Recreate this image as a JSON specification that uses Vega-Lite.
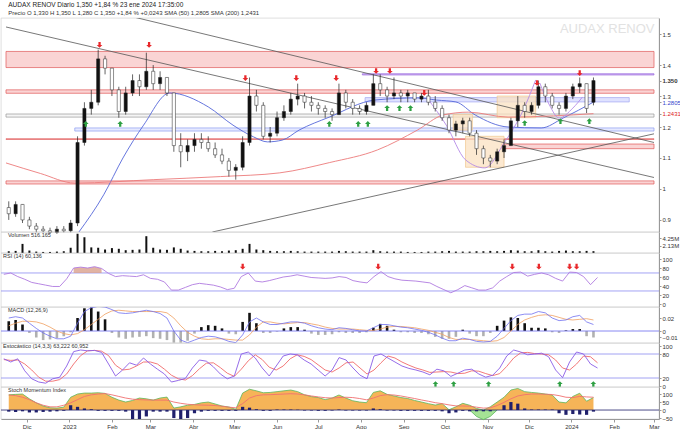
{
"$schema":"https://vega.github.io/schema/vega-lite/v6.json",
"padding":{"left":0,"right":0,"top":2,"bottom":0},
"background":"white",
"title":{"text":"AUDAX RENOV Diario 1,350 +1,84 % 23 ene 2024 17:35:00","subtitle":"Precio O 1,330  H 1,350  L 1,280  C 1,350  +1,84 %  +0,0243      SMA (50) 1,2805      SMA (200) 1,2431","anchor":"start","fontSize":6.5,"fontWeight":"normal","subtitleFontSize":6,"color":"#222","subtitleColor":"#333","offset":2,"subtitlePadding":1,"font":"Liberation Sans","subtitleFont":"Liberation Sans","dx":8},
"datasets":{
"p":[
{"d":"2022-11-18","o":0.94,"h":0.96,"l":0.90,"c":0.92,"v":500000,"r":67,"mh":0.015,"m":0.020,"s":0.008,"k":68,"dd":66,"sm":95,"sg":94,"nb":-10},
{"d":"2022-11-23","o":0.92,"h":0.96,"l":0.91,"c":0.95,"v":600000,"r":70,"mh":0.017,"m":0.022,"s":0.012,"k":60,"dd":64,"sm":98,"sg":90,"nb":-12},
{"d":"2022-11-28","o":0.95,"h":0.95,"l":0.89,"c":0.90,"v":2600000,"r":62,"mh":0.010,"m":0.020,"s":0.015,"k":68,"dd":65,"sm":100,"sg":80,"nb":-8},
{"d":"2022-12-03","o":0.90,"h":0.91,"l":0.87,"c":0.88,"v":700000,"r":56,"mh":-0.003,"m":0.012,"s":0.015,"k":38,"dd":55,"sm":70,"sg":65,"nb":-15},
{"d":"2022-12-08","o":0.88,"h":0.89,"l":0.86,"c":0.87,"v":400000,"r":49,"mh":-0.010,"m":0.004,"s":0.014,"k":18,"dd":40,"sm":45,"sg":45,"nb":-15},
{"d":"2022-12-13","o":0.87,"h":0.88,"l":0.86,"c":0.865,"v":300000,"r":46,"mh":-0.014,"m":-0.003,"s":0.011,"k":10,"dd":22,"sm":25,"sg":30,"nb":-12},
{"d":"2022-12-18","o":0.865,"h":0.875,"l":0.855,"c":0.86,"v":300000,"r":43,"mh":-0.013,"m":-0.008,"s":0.006,"k":7,"dd":12,"sm":14,"sg":20,"nb":-10},
{"d":"2022-12-23","o":0.86,"h":0.88,"l":0.855,"c":0.87,"v":400000,"r":40,"mh":-0.011,"m":-0.012,"s":0.0,"k":18,"dd":12,"sm":12,"sg":20,"nb":-8},
{"d":"2022-12-28","o":0.87,"h":0.88,"l":0.86,"c":0.865,"v":500000,"r":40,"mh":-0.008,"m":-0.012,"s":-0.004,"k":22,"dd":16,"sm":18,"sg":30,"nb":-5},
{"d":"2023-01-02","o":0.865,"h":0.90,"l":0.86,"c":0.89,"v":1500000,"r":57,"mh":-0.002,"m":-0.008,"s":-0.006,"k":50,"dd":30,"sm":80,"sg":45,"nb":30},
{"d":"2023-01-07","o":0.89,"h":1.17,"l":0.88,"c":1.15,"v":5500000,"r":81,"ob":81,"mh":0.020,"m":0.012,"s":-0.004,"k":86,"dd":55,"sm":100,"sg":65,"nb":20},
{"d":"2023-01-12","o":1.15,"h":1.28,"l":1.14,"c":1.26,"v":4500000,"r":83,"ob":83,"mh":0.035,"m":0.030,"s":0.002,"k":90,"dd":76,"sm":106,"sg":85,"nb":10},
{"d":"2023-01-17","o":1.26,"h":1.32,"l":1.24,"c":1.28,"v":1600000,"r":81,"ob":81,"mh":0.036,"m":0.036,"s":0.010,"k":88,"dd":88,"sm":106,"sg":95,"nb":5},
{"d":"2023-01-22","o":1.28,"h":1.45,"l":1.27,"c":1.42,"v":1500000,"r":84,"ob":84,"mh":0.030,"m":0.038,"s":0.018,"k":89,"dd":89,"sm":108,"sg":100,"nb":-5},
{"d":"2023-01-27","o":1.42,"h":1.43,"l":1.37,"c":1.39,"v":1000000,"r":80,"ob":80,"mh":0.018,"m":0.037,"s":0.026,"k":84,"dd":87,"sm":104,"sg":103,"nb":-5},
{"d":"2023-02-01","o":1.39,"h":1.39,"l":1.30,"c":1.32,"v":1400000,"r":69,"mh":-0.003,"m":0.033,"s":0.031,"k":55,"dd":76,"sm":80,"sg":95,"nb":-5},
{"d":"2023-02-06","o":1.32,"h":1.33,"l":1.23,"c":1.25,"v":1200000,"r":62,"mh":-0.010,"m":0.028,"s":0.032,"k":25,"dd":52,"sm":62,"sg":85,"nb":-5},
{"d":"2023-02-11","o":1.25,"h":1.33,"l":1.24,"c":1.31,"v":800000,"r":64,"mh":-0.012,"m":0.027,"s":0.031,"k":40,"dd":40,"sm":50,"sg":75,"nb":-10},
{"d":"2023-02-16","o":1.31,"h":1.37,"l":1.30,"c":1.35,"v":900000,"r":63,"mh":-0.010,"m":0.028,"s":0.030,"k":58,"dd":42,"sm":60,"sg":68,"nb":-60},
{"d":"2023-02-21","o":1.35,"h":1.37,"l":1.30,"c":1.33,"v":1000000,"r":62,"mh":-0.009,"m":0.030,"s":0.030,"k":52,"dd":50,"sm":75,"sg":65,"nb":-75},
{"d":"2023-02-26","o":1.33,"h":1.44,"l":1.32,"c":1.38,"v":4800000,"r":66,"mh":-0.008,"m":0.032,"s":0.030,"k":70,"dd":60,"sm":70,"sg":63,"nb":-40},
{"d":"2023-03-03","o":1.38,"h":1.40,"l":1.32,"c":1.34,"v":1500000,"r":58,"mh":-0.011,"m":0.030,"s":0.030,"k":55,"dd":60,"sm":62,"sg":62,"nb":-10},
{"d":"2023-03-08","o":1.34,"h":1.38,"l":1.32,"c":1.36,"v":1000000,"r":56,"mh":-0.012,"m":0.027,"s":0.030,"k":42,"dd":55,"sm":75,"sg":62,"nb":-10},
{"d":"2023-03-13","o":1.36,"h":1.36,"l":1.30,"c":1.31,"v":900000,"r":50,"mh":-0.014,"m":0.020,"s":0.028,"k":30,"dd":42,"sm":81,"sg":62,"nb":-10},
{"d":"2023-03-18","o":1.31,"h":1.31,"l":1.12,"c":1.14,"v":1600000,"r":32,"mh":-0.018,"m":0.0,"s":0.020,"k":10,"dd":27,"sm":12,"sg":50,"nb":-50},
{"d":"2023-03-23","o":1.14,"h":1.18,"l":1.07,"c":1.12,"v":1200000,"r":32,"mh":-0.018,"m":-0.014,"s":0.008,"k":14,"dd":18,"sm":20,"sg":42,"nb":-62},
{"d":"2023-03-28","o":1.12,"h":1.16,"l":1.09,"c":1.14,"v":700000,"r":38,"mh":-0.015,"m":-0.018,"s":-0.002,"k":19,"dd":15,"sm":30,"sg":36,"nb":-50},
{"d":"2023-04-02","o":1.14,"h":1.18,"l":1.12,"c":1.16,"v":600000,"r":44,"mh":-0.004,"m":-0.014,"s":-0.008,"k":45,"dd":26,"sm":35,"sg":33,"nb":-20},
{"d":"2023-04-07","o":1.16,"h":1.18,"l":1.13,"c":1.15,"v":500000,"r":47,"mh":0.006,"m":-0.010,"s":-0.012,"k":65,"dd":43,"sm":45,"sg":31,"nb":-10},
{"d":"2023-04-12","o":1.15,"h":1.17,"l":1.12,"c":1.13,"v":500000,"r":45,"mh":0.009,"m":-0.008,"s":-0.013,"k":62,"dd":57,"sm":50,"sg":30,"nb":-5},
{"d":"2023-04-17","o":1.13,"h":1.15,"l":1.10,"c":1.11,"v":600000,"r":43,"mh":0.008,"m":-0.009,"s":-0.012,"k":48,"dd":58,"sm":38,"sg":28,"nb":-5},
{"d":"2023-04-22","o":1.11,"h":1.13,"l":1.08,"c":1.09,"v":500000,"r":39,"mh":0.004,"m":-0.012,"s":-0.012,"k":30,"dd":46,"sm":25,"sg":24,"nb":-5},
{"d":"2023-04-27","o":1.09,"h":1.10,"l":1.04,"c":1.06,"v":700000,"r":33,"mh":-0.004,"m":-0.016,"s":-0.013,"k":18,"dd":32,"sm":19,"sg":18,"nb":-5},
{"d":"2023-05-02","o":1.06,"h":1.08,"l":1.03,"c":1.07,"v":800000,"r":36,"mh":-0.005,"m":-0.018,"s":-0.014,"k":25,"dd":24,"sm":4,"sg":14,"nb":-5},
{"d":"2023-05-07","o":1.07,"h":1.17,"l":1.06,"c":1.15,"v":1200000,"r":62,"mh":0.014,"m":-0.006,"s":-0.014,"k":80,"dd":42,"sm":106,"sg":40,"nb":20},
{"d":"2023-05-12","o":1.15,"h":1.36,"l":1.14,"c":1.30,"v":2600000,"r":70,"mh":0.028,"m":0.014,"s":-0.006,"k":85,"dd":63,"sm":130,"sg":75,"nb":15},
{"d":"2023-05-17","o":1.30,"h":1.32,"l":1.25,"c":1.27,"v":1000000,"r":52,"mh":0.012,"m":0.020,"s":0.006,"k":70,"dd":78,"sm":120,"sg":90,"nb":5},
{"d":"2023-05-22","o":1.27,"h":1.28,"l":1.16,"c":1.17,"v":800000,"r":50,"mh":-0.003,"m":0.014,"s":0.014,"k":45,"dd":66,"sm":108,"sg":95,"nb":-5},
{"d":"2023-05-27","o":1.17,"h":1.20,"l":1.15,"c":1.18,"v":600000,"r":53,"mh":-0.003,"m":0.010,"s":0.014,"k":25,"dd":47,"sm":110,"sg":96,"nb":-5},
{"d":"2023-06-01","o":1.18,"h":1.25,"l":1.17,"c":1.23,"v":500000,"r":57,"mh":-0.001,"m":0.010,"s":0.012,"k":50,"dd":40,"sm":115,"sg":98,"nb":3},
{"d":"2023-06-06","o":1.23,"h":1.27,"l":1.22,"c":1.25,"v":500000,"r":61,"mh":0.004,"m":0.012,"s":0.011,"k":75,"dd":50,"sm":120,"sg":100,"nb":3},
{"d":"2023-06-11","o":1.25,"h":1.31,"l":1.24,"c":1.29,"v":600000,"r":63,"mh":0.006,"m":0.014,"s":0.012,"k":80,"dd":68,"sm":125,"sg":102,"nb":3},
{"d":"2023-06-16","o":1.29,"h":1.34,"l":1.27,"c":1.30,"v":500000,"r":66,"mh":0.006,"m":0.014,"s":0.013,"k":78,"dd":78,"sm":115,"sg":100,"nb":2},
{"d":"2023-06-21","o":1.30,"h":1.31,"l":1.26,"c":1.28,"v":400000,"r":63,"mh":0.002,"m":0.012,"s":0.013,"k":65,"dd":74,"sm":95,"sg":95,"nb":-3},
{"d":"2023-06-26","o":1.28,"h":1.30,"l":1.25,"c":1.27,"v":400000,"r":60,"mh":-0.004,"m":0.008,"s":0.011,"k":55,"dd":66,"sm":84,"sg":88,"nb":-3},
{"d":"2023-07-01","o":1.27,"h":1.28,"l":1.24,"c":1.26,"v":400000,"r":59,"mh":-0.006,"m":0.005,"s":0.009,"k":40,"dd":53,"sm":78,"sg":82,"nb":-5},
{"d":"2023-07-06","o":1.26,"h":1.27,"l":1.23,"c":1.25,"v":400000,"r":58,"mh":-0.006,"m":0.003,"s":0.006,"k":25,"dd":40,"sm":65,"sg":77,"nb":-5},
{"d":"2023-07-11","o":1.25,"h":1.26,"l":1.22,"c":1.24,"v":400000,"r":59,"mh":-0.005,"m":0.002,"s":0.004,"k":40,"dd":35,"sm":75,"sg":75,"nb":-3},
{"d":"2023-07-16","o":1.24,"h":1.34,"l":1.24,"c":1.31,"v":600000,"r":62,"mh":-0.002,"m":0.005,"s":0.003,"k":71,"dd":45,"sm":94,"sg":78,"nb":3},
{"d":"2023-07-21","o":1.31,"h":1.32,"l":1.26,"c":1.28,"v":500000,"r":60,"mh":-0.003,"m":0.004,"s":0.003,"k":65,"dd":58,"sm":75,"sg":80,"nb":-3},
{"d":"2023-07-26","o":1.28,"h":1.29,"l":1.24,"c":1.26,"v":400000,"r":53,"mh":-0.003,"m":0.002,"s":0.003,"k":45,"dd":60,"sm":58,"sg":78,"nb":-3},
{"d":"2023-07-31","o":1.26,"h":1.27,"l":1.24,"c":1.25,"v":400000,"r":50,"mh":-0.003,"m":0.0,"s":0.002,"k":27,"dd":45,"sm":50,"sg":72,"nb":-3},
{"d":"2023-08-05","o":1.25,"h":1.28,"l":1.24,"c":1.27,"v":400000,"r":48,"mh":-0.002,"m":0.0,"s":0.001,"k":18,"dd":30,"sm":46,"sg":64,"nb":-3},
{"d":"2023-08-10","o":1.27,"h":1.37,"l":1.27,"c":1.34,"v":800000,"r":62,"mh":0.005,"m":0.005,"s":0.001,"k":75,"dd":40,"sm":110,"sg":75,"nb":10},
{"d":"2023-08-15","o":1.34,"h":1.37,"l":1.30,"c":1.32,"v":500000,"r":73,"mh":0.011,"m":0.010,"s":0.003,"k":80,"dd":58,"sm":120,"sg":90,"nb":5},
{"d":"2023-08-20","o":1.32,"h":1.33,"l":1.28,"c":1.30,"v":400000,"r":62,"mh":0.008,"m":0.010,"s":0.006,"k":70,"dd":75,"sm":98,"sg":96,"nb":-3},
{"d":"2023-08-25","o":1.30,"h":1.36,"l":1.29,"c":1.31,"v":400000,"r":57,"mh":0.002,"m":0.008,"s":0.007,"k":60,"dd":70,"sm":88,"sg":94,"nb":-3},
{"d":"2023-08-30","o":1.31,"h":1.32,"l":1.28,"c":1.30,"v":400000,"r":54,"mh":-0.002,"m":0.006,"s":0.007,"k":50,"dd":60,"sm":78,"sg":88,"nb":-5},
{"d":"2023-09-04","o":1.30,"h":1.32,"l":1.28,"c":1.31,"v":300000,"r":53,"mh":-0.002,"m":0.005,"s":0.006,"k":44,"dd":52,"sm":72,"sg":80,"nb":-5},
{"d":"2023-09-09","o":1.31,"h":1.31,"l":1.28,"c":1.29,"v":300000,"r":52,"mh":-0.003,"m":0.003,"s":0.005,"k":40,"dd":45,"sm":60,"sg":72,"nb":-5},
{"d":"2023-09-14","o":1.29,"h":1.31,"l":1.28,"c":1.30,"v":300000,"r":50,"mh":-0.003,"m":0.001,"s":0.003,"k":35,"dd":40,"sm":50,"sg":63,"nb":-5},
{"d":"2023-09-19","o":1.30,"h":1.32,"l":1.27,"c":1.28,"v":400000,"r":48,"mh":-0.005,"m":-0.002,"s":0.001,"k":28,"dd":34,"sm":40,"sg":55,"nb":-5},
{"d":"2023-09-24","o":1.28,"h":1.30,"l":1.25,"c":1.26,"v":400000,"r":40,"mh":-0.009,"m":-0.006,"s":-0.002,"k":42,"dd":35,"sm":31,"sg":46,"nb":-5},
{"d":"2023-09-29","o":1.26,"h":1.27,"l":1.22,"c":1.23,"v":500000,"r":33,"mh":-0.012,"m":-0.011,"s":-0.005,"k":38,"dd":36,"sm":40,"sg":40,"nb":-8},
{"d":"2023-10-04","o":1.23,"h":1.24,"l":1.18,"c":1.19,"v":600000,"r":26,"mh":-0.012,"m":-0.015,"s":-0.010,"k":24,"dd":35,"sm":2,"sg":32,"nb":-20},
{"d":"2023-10-09","o":1.19,"h":1.22,"l":1.17,"c":1.21,"v":400000,"r":33,"mh":-0.009,"m":-0.015,"s":-0.013,"k":32,"dd":31,"sm":20,"sg":26,"nb":-15},
{"d":"2023-10-14","o":1.21,"h":1.23,"l":1.18,"c":1.22,"v":400000,"r":42,"mh":0.002,"m":-0.011,"s":-0.013,"k":40,"dd":32,"sm":42,"sg":25,"nb":-5},
{"d":"2023-10-19","o":1.22,"h":1.23,"l":1.17,"c":1.18,"v":400000,"r":37,"ng":0,"mh":-0.004,"m":-0.013,"s":-0.013,"k":42,"dd":38,"sm":30,"sg":24,"nb":-8},
{"d":"2023-10-24","o":1.18,"h":1.19,"l":1.11,"c":1.13,"v":500000,"r":32,"ng":-40,"mh":-0.008,"m":-0.016,"s":-0.014,"k":30,"dd":37,"sm":10,"sg":18,"nb":-8},
{"d":"2023-10-29","o":1.13,"h":1.14,"l":1.08,"c":1.10,"v":500000,"r":32,"ng":-60,"mh":-0.008,"m":-0.017,"s":-0.015,"k":22,"dd":31,"sm":0,"sg":12,"nb":-8},
{"d":"2023-11-03","o":1.10,"h":1.11,"l":1.07,"c":1.09,"v":600000,"r":37,"ng":-40,"mh":-0.003,"m":-0.016,"s":-0.016,"k":27,"dd":26,"sm":20,"sg":14,"nb":-8},
{"d":"2023-11-08","o":1.09,"h":1.13,"l":1.08,"c":1.12,"v":500000,"r":52,"ng":0,"mh":0.008,"m":-0.008,"s":-0.015,"k":45,"dd":31,"sm":50,"sg":28,"nb":0},
{"d":"2023-11-13","o":1.12,"h":1.16,"l":1.10,"c":1.14,"v":600000,"r":62,"mh":0.016,"m":0.004,"s":-0.010,"k":75,"dd":49,"sm":80,"sg":48,"nb":30},
{"d":"2023-11-18","o":1.14,"h":1.23,"l":1.14,"c":1.22,"v":800000,"r":71,"mh":0.021,"m":0.016,"s":0.0,"k":90,"dd":70,"sm":125,"sg":70,"nb":50},
{"d":"2023-11-23","o":1.22,"h":1.30,"l":1.20,"c":1.27,"v":700000,"r":72,"mh":0.020,"m":0.024,"s":0.010,"k":85,"dd":83,"sm":135,"sg":88,"nb":40},
{"d":"2023-11-28","o":1.27,"h":1.28,"l":1.23,"c":1.25,"v":500000,"r":63,"mh":0.012,"m":0.026,"s":0.017,"k":78,"dd":84,"sm":115,"sg":96,"nb":10},
{"d":"2023-12-03","o":1.25,"h":1.28,"l":1.24,"c":1.27,"v":500000,"r":67,"mh":0.005,"m":0.026,"s":0.021,"k":80,"dd":81,"sm":110,"sg":100,"nb":3},
{"d":"2023-12-08","o":1.27,"h":1.35,"l":1.26,"c":1.33,"v":800000,"r":70,"mh":0.005,"m":0.030,"s":0.024,"k":82,"dd":80,"sm":106,"sg":100,"nb":3},
{"d":"2023-12-13","o":1.33,"h":1.34,"l":1.28,"c":1.30,"v":500000,"r":66,"mh":0.004,"m":0.028,"s":0.025,"k":73,"dd":78,"sm":100,"sg":99,"nb":3},
{"d":"2023-12-18","o":1.30,"h":1.31,"l":1.26,"c":1.27,"v":400000,"r":58,"mh":-0.002,"m":0.020,"s":0.024,"k":40,"dd":65,"sm":94,"sg":97,"nb":3},
{"d":"2023-12-23","o":1.27,"h":1.28,"l":1.24,"c":1.26,"v":600000,"r":52,"mh":-0.003,"m":0.016,"s":0.021,"k":21,"dd":45,"sm":50,"sg":90,"nb":-20},
{"d":"2023-12-28","o":1.26,"h":1.31,"l":1.25,"c":1.30,"v":700000,"r":72,"mh":0.001,"m":0.017,"s":0.018,"k":60,"dd":40,"sm":45,"sg":80,"nb":-30},
{"d":"2024-01-02","o":1.30,"h":1.34,"l":1.29,"c":1.33,"v":500000,"r":71,"mh":0.003,"m":0.022,"s":0.017,"k":85,"dd":55,"sm":85,"sg":78,"nb":-25},
{"d":"2024-01-07","o":1.33,"h":1.36,"l":1.31,"c":1.34,"v":500000,"r":62,"mh":0.003,"m":0.024,"s":0.018,"k":80,"dd":75,"sm":105,"sg":85,"nb":-28},
{"d":"2024-01-12","o":1.34,"h":1.34,"l":1.245,"c":1.26,"v":600000,"r":44,"mh":-0.008,"m":0.014,"s":0.019,"k":55,"dd":73,"sm":55,"sg":82,"nb":-30},
{"d":"2024-01-17","o":1.28,"h":1.36,"l":1.27,"c":1.35,"v":516165,"r":60,"mh":-0.010,"m":0.010,"s":0.017,"k":45,"dd":58,"sm":78,"sg":80,"nb":-10}
],
"z":[
{"s":"2022-11-16","e":"2024-03-01","lo":1.392,"hi":1.444,"t":"r"},
{"s":"2022-11-16","e":"2024-03-01","lo":1.309,"hi":1.320,"t":"r"},
{"s":"2022-11-16","e":"2024-03-01","lo":1.232,"hi":1.242,"t":"g"},
{"s":"2023-01-05","e":"2024-03-01","lo":1.187,"hi":1.197,"t":"b"},
{"s":"2022-11-16","e":"2024-03-01","lo":1.160,"hi":1.162,"t":"r"},
{"s":"2023-11-11","e":"2024-03-01","lo":1.130,"hi":1.145,"t":"r"},
{"s":"2022-11-16","e":"2024-03-01","lo":1.016,"hi":1.026,"t":"r"},
{"s":"2023-08-02","e":"2024-03-01","lo":1.368,"hi":1.372,"t":"p"},
{"s":"2023-08-04","e":"2024-02-12","lo":1.281,"hi":1.295,"t":"l"},
{"s":"2023-10-07","e":"2023-10-21","lo":1.19,"hi":1.24,"t":"o"},
{"s":"2023-10-16","e":"2023-11-13","lo":1.07,"hi":1.17,"t":"o"},
{"s":"2023-11-08","e":"2023-12-06","lo":1.23,"hi":1.30,"t":"o"}
],
"tl":[
{"id":"A","d":"2022-11-16","p":1.523},{"id":"A","d":"2024-03-01","p":1.037},
{"id":"B","d":"2023-02-02","p":1.571},{"id":"B","d":"2024-03-01","p":1.150},
{"id":"C","d":"2023-04-15","p":0.861},{"id":"C","d":"2024-03-01","p":1.178}
],
"ma":[
{"id":"50","d":"2023-01-08","p":0.861},{"id":"50","d":"2023-01-26","p":0.981},{"id":"50","d":"2023-02-09","p":1.10},{"id":"50","d":"2023-02-24","p":1.206},{"id":"50","d":"2023-03-15","p":1.31},{"id":"50","d":"2023-04-12","p":1.265},{"id":"50","d":"2023-04-30","p":1.206},{"id":"50","d":"2023-05-15","p":1.168},{"id":"50","d":"2023-05-25","p":1.152},{"id":"50","d":"2023-06-05","p":1.158},{"id":"50","d":"2023-06-17","p":1.19},{"id":"50","d":"2023-07-09","p":1.232},{"id":"50","d":"2023-08-11","p":1.287},{"id":"50","d":"2023-09-11","p":1.294},{"id":"50","d":"2023-09-25","p":1.287},{"id":"50","d":"2023-10-09","p":1.281},{"id":"50","d":"2023-10-23","p":1.239},{"id":"50","d":"2023-11-16","p":1.20},{"id":"50","d":"2023-12-10","p":1.197},{"id":"50","d":"2023-12-26","p":1.229},{"id":"50","d":"2024-01-17","p":1.2805},
{"id":"200","d":"2022-11-16","p":1.084},{"id":"200","d":"2022-12-11","p":1.05},{"id":"200","d":"2023-01-05","p":1.019},{"id":"200","d":"2023-03-03","p":1.03},{"id":"200","d":"2023-04-21","p":1.04},{"id":"200","d":"2023-06-03","p":1.052},{"id":"200","d":"2023-07-09","p":1.085},{"id":"200","d":"2023-08-13","p":1.126},{"id":"200","d":"2023-09-11","p":1.19},{"id":"200","d":"2023-09-30","p":1.239},{"id":"200","d":"2023-10-18","p":1.248},{"id":"200","d":"2023-11-16","p":1.232},{"id":"200","d":"2023-12-19","p":1.236},{"id":"200","d":"2024-01-17","p":1.2431}
],
"arc":[
{"id":"1","d":"2023-09-18","p":1.294},{"id":"1","d":"2023-10-02","p":1.206},{"id":"1","d":"2023-10-16","p":1.094},{"id":"1","d":"2023-10-30","p":1.068},{"id":"1","d":"2023-11-13","p":1.148},{"id":"1","d":"2023-11-27","p":1.255},{"id":"1","d":"2023-12-06","p":1.352},
{"id":"2","d":"2023-12-09","p":1.342},{"id":"2","d":"2023-12-16","p":1.271},{"id":"2","d":"2023-12-23","p":1.229},{"id":"2","d":"2024-01-02","p":1.261},{"id":"2","d":"2024-01-09","p":1.297}
],
"ar":[
{"pn":"p","t":"dn","d":"2023-01-23","y":1.465},{"pn":"p","t":"dn","d":"2023-02-28","y":1.465},{"pn":"p","t":"dn","d":"2023-05-09","y":1.358},{"pn":"p","t":"dn","d":"2023-06-15","y":1.358},{"pn":"p","t":"dn","d":"2023-07-14","y":1.358},{"pn":"p","t":"dn","d":"2023-08-12","y":1.381},{"pn":"p","t":"dn","d":"2023-08-22","y":1.381},{"pn":"p","t":"dn","d":"2023-09-16","y":1.31},{"pn":"p","t":"dn","d":"2023-12-07","y":1.342},{"pn":"p","t":"dn","d":"2024-01-07","y":1.374},
{"pn":"p","t":"up","d":"2023-01-13","y":1.21},{"pn":"p","t":"up","d":"2023-02-07","y":1.21},{"pn":"p","t":"up","d":"2023-07-09","y":1.21},{"pn":"p","t":"up","d":"2023-07-30","y":1.21},{"pn":"p","t":"up","d":"2023-08-06","y":1.21},{"pn":"p","t":"up","d":"2023-08-20","y":1.261},{"pn":"p","t":"up","d":"2023-08-29","y":1.261},{"pn":"p","t":"up","d":"2023-09-06","y":1.261},{"pn":"p","t":"up","d":"2023-11-28","y":1.213},{"pn":"p","t":"up","d":"2023-12-24","y":1.219},{"pn":"p","t":"up","d":"2024-01-14","y":1.219},
{"pn":"rsi","t":"dn","d":"2023-05-08","y":84},{"pn":"rsi","t":"dn","d":"2023-08-13","y":84},{"pn":"rsi","t":"dn","d":"2023-11-17","y":84},{"pn":"rsi","t":"dn","d":"2023-12-06","y":84},{"pn":"rsi","t":"dn","d":"2023-12-28","y":84},{"pn":"rsi","t":"dn","d":"2024-01-02","y":84},
{"pn":"st","t":"up","d":"2023-09-23","y":5},{"pn":"st","t":"up","d":"2023-10-06","y":5},{"pn":"st","t":"up","d":"2023-10-31","y":5},{"pn":"st","t":"up","d":"2023-12-21","y":5},{"pn":"st","t":"up","d":"2024-01-14","y":5}
],
"lv":[
{"pn":"rsi","v":70},{"pn":"rsi","v":30},{"pn":"macd","v":0},{"pn":"st","v":80},{"pn":"st","v":20},{"pn":"sm","v":0}
],
"lab":[
{"pn":"wm","t":"AUDAX RENOV"},{"pn":"vol","t":"Volumen  516.165"},{"pn":"rsi","t":"RSI (14)  60,136"},{"pn":"macd","t":"MACD (12,26,9)"},{"pn":"st","t":"Estocástico (14,3,3)  63,222  60,952"},{"pn":"sm","t":"Stoch Momentum Index"}
]
},
"spacing":0,
"bounds":"flush",
"vconcat":[
{"width":658,"height":214,
"layer":[
{"data":{"name":"z"},"mark":{"type":"rect","fillOpacity":0.75,"strokeWidth":0.7},
"encoding":{"x":{"field":"s","type":"temporal","scale":{"domain":[{"year":2022,"month":11,"date":16},{"year":2024,"month":3,"date":1}]},"axis":null},"x2":{"field":"e"},
"y":{"field":"lo","type":"quantitative","scale":{"domain":[0.861,1.552],"nice":false,"zero":false},"axis":{"orient":"right","tickCount":40,"values":[0.9,1,1.1,1.2,1.2431,1.2805,1.3,1.35,1.4,1.5],"labelOverlap":false,"labelExpr":"datum.value==1.35?'1.350':datum.value==1.2805?'1.2805':datum.value==1.2431?'1.2431':format(datum.value,'.1~f')","labelColor":{"condition":[{"test":"datum.value==1.2805","value":"#3344cc"},{"test":"datum.value==1.2431","value":"#dd2222"}],"value":"#333333"},"labelFontWeight":{"condition":{"test":"datum.value==1.35","value":"bold"},"value":"normal"}}},
"y2":{"field":"hi"},
"fill":{"field":"t","type":"nominal","scale":{"domain":["r","g","b","p","l","o"],"range":["#f8c6c6","#f2f2f2","#dde2ff","#c7a3f0","#d4d8ff","#fbe2c2"]},"legend":null},
"stroke":{"field":"t","type":"nominal","scale":{"domain":["r","g","b","p","l","o"],"range":["#e05858","#9a9a9a","#8c9cf0","#9b6be0","#a4a8f0","#f0c890"]},"legend":null}}},
{"data":{"name":"lab"},"transform":[{"filter":"datum.pn=='wm'"}],"mark":{"type":"text","fontSize":13,"color":"#e2e2e2","align":"center","baseline":"middle","font":"Liberation Sans"},"encoding":{"x":{"datum":{"year":2024,"month":1,"date":27},"type":"temporal"},"y":{"datum":1.515},"text":{"field":"t"}}},
{"data":{"name":"tl"},"mark":{"type":"line","color":"#555555","strokeWidth":0.8,"clip":true},"encoding":{"x":{"field":"d","type":"temporal"},"y":{"field":"p","type":"quantitative"},"detail":{"field":"id"}}},
{"data":{"name":"ma"},"transform":[{"filter":"datum.id=='50'"}],"mark":{"type":"line","color":"#5566d9","strokeWidth":0.9,"clip":true,"interpolate":"monotone"},"encoding":{"x":{"field":"d","type":"temporal"},"y":{"field":"p","type":"quantitative"}}},
{"data":{"name":"ma"},"transform":[{"filter":"datum.id=='200'"}],"mark":{"type":"line","color":"#ec7b7b","strokeWidth":0.9,"clip":true,"interpolate":"monotone"},"encoding":{"x":{"field":"d","type":"temporal"},"y":{"field":"p","type":"quantitative"}}},
{"data":{"name":"arc"},"mark":{"type":"line","color":"#b48ae6","strokeWidth":0.9,"clip":true,"interpolate":"monotone"},"encoding":{"x":{"field":"d","type":"temporal"},"y":{"field":"p","type":"quantitative"},"detail":{"field":"id"}}},
{"data":{"name":"p"},"mark":{"type":"rule","color":"#222222","strokeWidth":0.7},"encoding":{"x":{"field":"d","type":"temporal"},"y":{"field":"l","type":"quantitative"},"y2":{"field":"h"}}},
{"data":{"name":"p"},"mark":{"type":"bar","size":3.2,"stroke":"#222222","strokeWidth":0.5},"encoding":{"x":{"field":"d","type":"temporal"},"y":{"field":"o","type":"quantitative"},"y2":{"field":"c"},"fill":{"condition":{"test":"datum.c>=datum.o","value":"#111111"},"value":"#ffffff"}}},
{"data":{"name":"ar"},"transform":[{"filter":"datum.pn=='p'"}],"mark":{"type":"point","filled":true,"size":32,"opacity":1},"encoding":{"x":{"field":"d","type":"temporal"},"y":{"field":"y","type":"quantitative"},"shape":{"field":"t","type":"nominal","scale":{"domain":["dn","up"],"range":["M-0.4,-1L0.4,-1L0.4,0L1,0L0,1L-1,0L-0.4,0Z","M-0.4,1L0.4,1L0.4,0L1,0L0,-1L-1,0L-0.4,0Z"]},"legend":null},"color":{"condition":{"test":"datum.t=='dn'","value":"#e8282b"},"value":"#2ea043"}}}
]},
{"width":658,"height":21,
"layer":[
{"data":{"name":"p"},"mark":{"type":"bar","size":2,"color":"#111111"},"encoding":{"x":{"field":"d","type":"temporal","scale":{"domain":[{"year":2022,"month":11,"date":16},{"year":2024,"month":3,"date":1}]},"axis":null},"y":{"field":"v","type":"quantitative","scale":{"domain":[0,6000000],"nice":false},"axis":{"orient":"right","tickCount":40,"values":[2125000,4250000],"labelOverlap":false,"labelExpr":"datum.value==4250000?'4.25M':'2.13M'"}}}},
{"data":{"name":"lab"},"transform":[{"filter":"datum.pn=='vol'"}],"mark":{"type":"text","fontSize":5.5,"color":"#333333","align":"left","baseline":"top","dx":2,"dy":1,"font":"Liberation Sans"},"encoding":{"x":{"datum":{"year":2022,"month":11,"date":16},"type":"temporal"},"y":{"datum":6000000},"text":{"field":"t"}}}
]},
{"width":658,"height":54,
"layer":[
{"data":{"name":"lv"},"transform":[{"filter":"datum.pn=='rsi'"}],"mark":{"type":"rule","color":"#8c8cf0","strokeWidth":0.8},"encoding":{"y":{"field":"v","type":"quantitative","scale":{"domain":[-5.6,114.4],"nice":false},"axis":{"orient":"right","tickCount":40,"values":[0,20,40,60,80,100],"labelOverlap":false}}}},
{"data":{"name":"p"},"transform":[{"filter":"isValid(datum.ob)"}],"mark":{"type":"area","color":"#d9a08c","opacity":0.8},"encoding":{"x":{"field":"d","type":"temporal","scale":{"domain":[{"year":2022,"month":11,"date":16},{"year":2024,"month":3,"date":1}]},"axis":null},"y":{"field":"ob","type":"quantitative"},"y2":{"datum":70}}},
{"data":{"name":"p"},"mark":{"type":"line","color":"#b07ae0","strokeWidth":0.9},"encoding":{"x":{"field":"d","type":"temporal"},"y":{"field":"r","type":"quantitative"}}},
{"data":{"name":"ar"},"transform":[{"filter":"datum.pn=='rsi'"}],"mark":{"type":"point","filled":true,"size":32,"opacity":1,"shape":"M-0.4,-1L0.4,-1L0.4,0L1,0L0,1L-1,0L-0.4,0Z","color":"#e8282b"},"encoding":{"x":{"field":"d","type":"temporal"},"y":{"field":"y","type":"quantitative"}}},
{"data":{"name":"lab"},"transform":[{"filter":"datum.pn=='rsi'"}],"mark":{"type":"text","fontSize":5.5,"color":"#333333","align":"left","baseline":"top","dx":2,"dy":1,"font":"Liberation Sans"},"encoding":{"x":{"datum":{"year":2022,"month":11,"date":16},"type":"temporal"},"y":{"datum":114.4},"text":{"field":"t"}}}
]},
{"width":658,"height":36,
"layer":[
{"data":{"name":"p"},"mark":{"type":"bar","size":2.6},"encoding":{"x":{"field":"d","type":"temporal","scale":{"domain":[{"year":2022,"month":11,"date":16},{"year":2024,"month":3,"date":1}]},"axis":null},"y":{"field":"mh","type":"quantitative","scale":{"domain":[-0.0185,0.037],"nice":false},"axis":{"orient":"right","tickCount":40,"values":[-0.01,0,0.02],"format":".2~f","labelOverlap":false}},"color":{"condition":{"test":"datum.mh>=0","value":"#111111"},"value":"#b0b0b0"}}},
{"data":{"name":"lv"},"transform":[{"filter":"datum.pn=='macd'"}],"mark":{"type":"rule","color":"#7b7bf0","strokeWidth":0.9},"encoding":{"y":{"field":"v","type":"quantitative"}}},
{"data":{"name":"p"},"mark":{"type":"line","color":"#f0a060","strokeWidth":0.8,"clip":true},"encoding":{"x":{"field":"d","type":"temporal"},"y":{"field":"s","type":"quantitative"}}},
{"data":{"name":"p"},"mark":{"type":"line","color":"#7070f0","strokeWidth":0.8,"clip":true},"encoding":{"x":{"field":"d","type":"temporal"},"y":{"field":"m","type":"quantitative"}}},
{"data":{"name":"lab"},"transform":[{"filter":"datum.pn=='macd'"}],"mark":{"type":"text","fontSize":5.5,"color":"#333333","align":"left","baseline":"top","dx":2,"dy":1,"font":"Liberation Sans"},"encoding":{"x":{"datum":{"year":2022,"month":11,"date":16},"type":"temporal"},"y":{"datum":0.037},"text":{"field":"t"}}}
]},
{"width":658,"height":44,
"layer":[
{"data":{"name":"lv"},"transform":[{"filter":"datum.pn=='st'"}],"mark":{"type":"rule","color":"#8c8cf0","strokeWidth":0.8},"encoding":{"y":{"field":"v","type":"quantitative","scale":{"domain":[-2.5,107.5],"nice":false},"axis":{"orient":"right","tickCount":40,"values":[0,20,80,100],"labelOverlap":false}}}},
{"data":{"name":"p"},"mark":{"type":"line","color":"#f06a6a","strokeWidth":0.9},"encoding":{"x":{"field":"d","type":"temporal","scale":{"domain":[{"year":2022,"month":11,"date":16},{"year":2024,"month":3,"date":1}]},"axis":null},"y":{"field":"dd","type":"quantitative"}}},
{"data":{"name":"p"},"mark":{"type":"line","color":"#8a5ce6","strokeWidth":0.9},"encoding":{"x":{"field":"d","type":"temporal"},"y":{"field":"k","type":"quantitative"}}},
{"data":{"name":"ar"},"transform":[{"filter":"datum.pn=='st'"}],"mark":{"type":"point","filled":true,"size":32,"opacity":1,"shape":"M-0.4,1L0.4,1L0.4,0L1,0L0,-1L-1,0L-0.4,0Z","color":"#2ea043"},"encoding":{"x":{"field":"d","type":"temporal"},"y":{"field":"y","type":"quantitative"}}},
{"data":{"name":"lab"},"transform":[{"filter":"datum.pn=='st'"}],"mark":{"type":"text","fontSize":5.5,"color":"#333333","align":"left","baseline":"top","dx":2,"dy":1,"font":"Liberation Sans"},"encoding":{"x":{"datum":{"year":2022,"month":11,"date":16},"type":"temporal"},"y":{"datum":107.5},"text":{"field":"t"}}}
]},
{"width":658,"height":32,
"layer":[
{"data":{"name":"p"},"mark":{"type":"area","color":"#f5b04f","opacity":0.95,"line":{"color":"#5cb85c","strokeWidth":0.8}},"encoding":{"x":{"field":"d","type":"temporal","scale":{"domain":[{"year":2022,"month":11,"date":16},{"year":2024,"month":3,"date":1}]},"axis":{"orient":"bottom","tickCount":{"interval":"month","step":1},"labelExpr":"month(datum.value)==0?timeFormat(datum.value,'%Y'):['Ene','Feb','Mar','Abr','May','Jun','Jul','Ago','Sep','Oct','Nov','Dic'][month(datum.value)]","labelFontSize":6,"tickSize":3,"labelPadding":1,"labelFlush":false,"labelOverlap":false}},"y":{"field":"sm","type":"quantitative","scale":{"domain":[-56,144],"nice":false},"axis":{"orient":"right","tickCount":40,"values":[-50,0,50,100],"labelOverlap":false}}}},
{"data":{"name":"p"},"transform":[{"filter":"isValid(datum.ng)"}],"mark":{"type":"area","color":"#9be08a","opacity":0.9,"line":{"color":"#4caf50","strokeWidth":0.7}},"encoding":{"x":{"field":"d","type":"temporal"},"y":{"field":"ng","type":"quantitative"}}},
{"data":{"name":"p"},"mark":{"type":"bar","size":3.2,"color":"#1f1f6b","clip":true},"encoding":{"x":{"field":"d","type":"temporal"},"y":{"field":"nb","type":"quantitative"}}},
{"data":{"name":"lv"},"transform":[{"filter":"datum.pn=='sm'"}],"mark":{"type":"rule","color":"#1f1f6b","strokeWidth":0.8},"encoding":{"y":{"field":"v","type":"quantitative"}}},
{"data":{"name":"p"},"mark":{"type":"line","color":"#f07070","strokeWidth":0.9},"encoding":{"x":{"field":"d","type":"temporal"},"y":{"field":"sg","type":"quantitative"}}},
{"data":{"name":"lab"},"transform":[{"filter":"datum.pn=='sm'"}],"mark":{"type":"text","fontSize":5.5,"color":"#333333","align":"left","baseline":"top","dx":2,"dy":1,"font":"Liberation Sans"},"encoding":{"x":{"datum":{"year":2022,"month":11,"date":16},"type":"temporal"},"y":{"datum":144},"text":{"field":"t"}}}
]}
],
"config":{
"font":"Liberation Sans",
"view":{"stroke":"#c8c8c8","strokeWidth":0.6},
"axis":{"labelFont":"Liberation Sans","labelFontSize":6,"labelColor":"#333333","tickColor":"#999999","domainColor":"#999999","tickSize":2,"labelPadding":1,"grid":false,"title":null,"labelOverlap":false,"labelBound":false}
}
}
